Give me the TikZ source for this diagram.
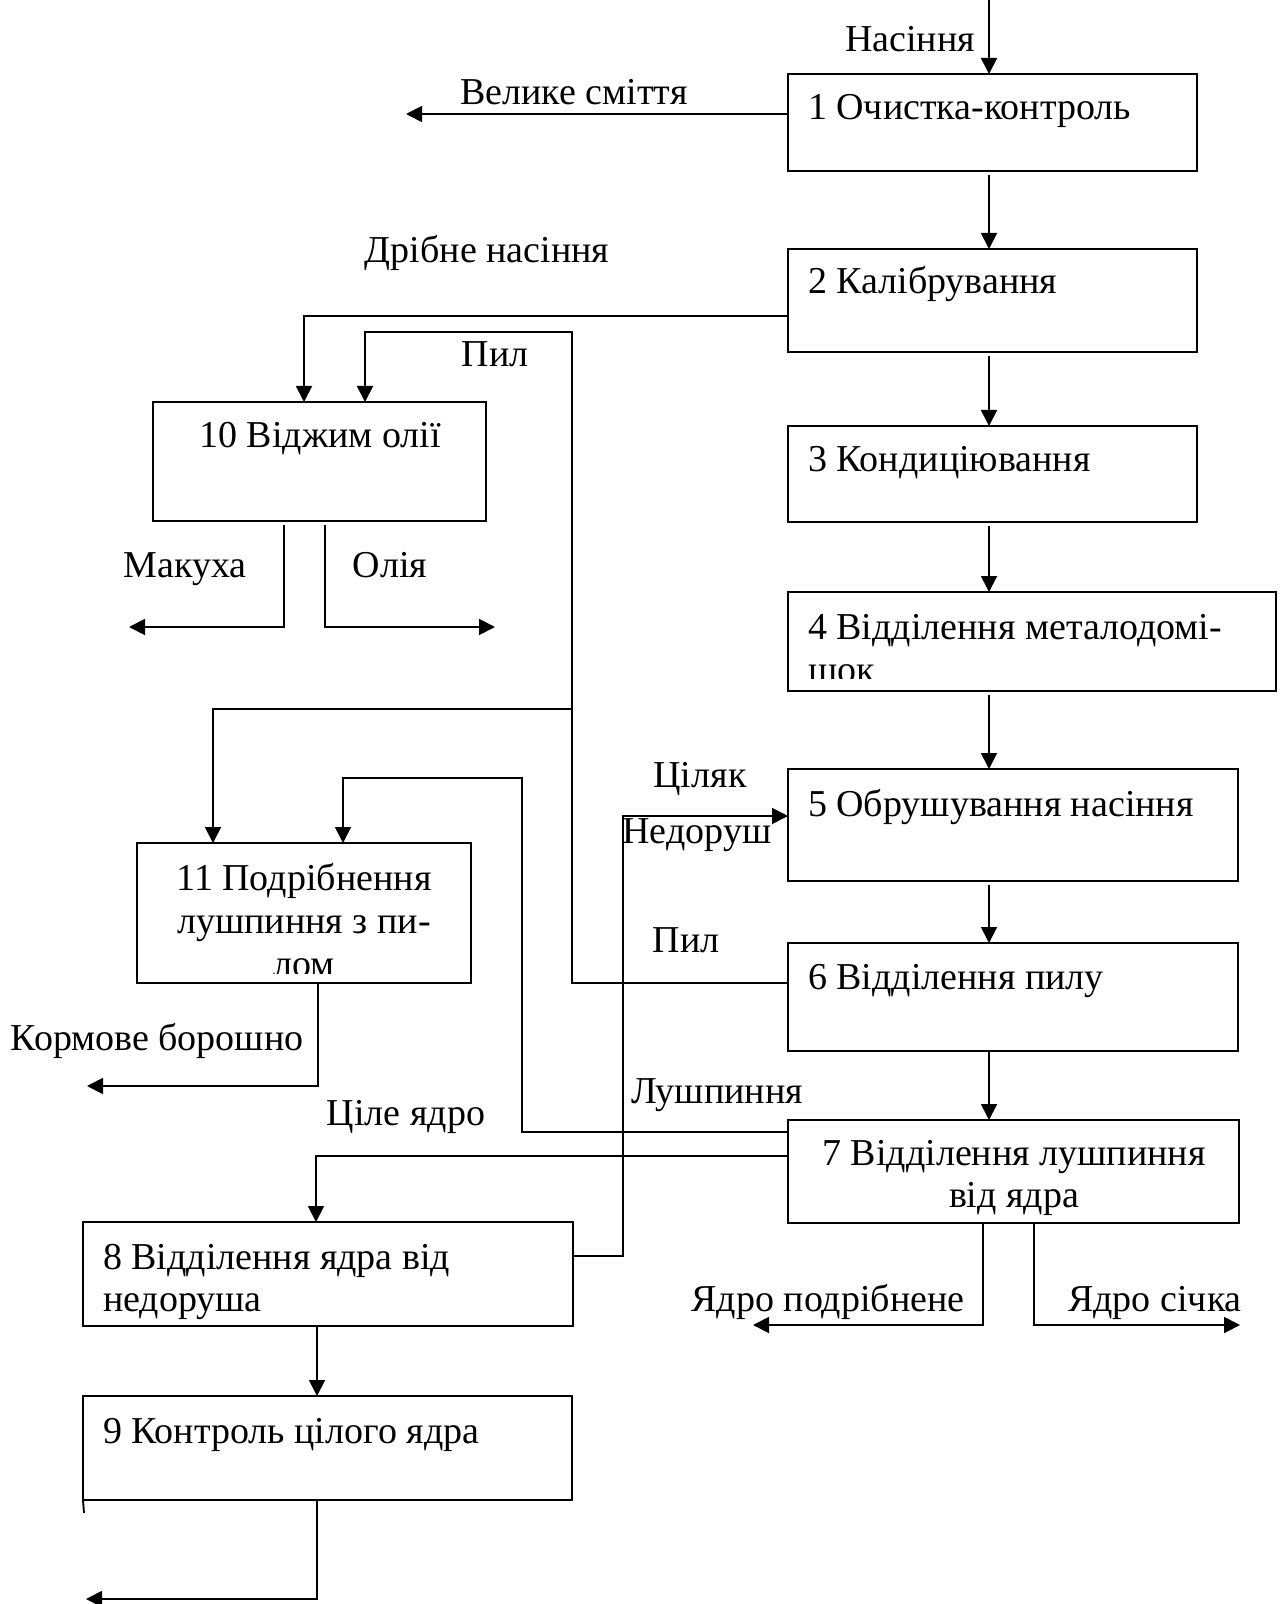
\documentclass[tikz,border=0pt]{standalone}
\usepackage{fontspec}
\setmainfont{Liberation Serif}
\usetikzlibrary{arrows.meta}
\newcommand\dfont{\fontsize{19}{21.5}\selectfont}
\begin{document}
\begin{tikzpicture}[x=0.5pt,y=-0.5pt,
  box/.style={draw, line width=0.95pt, rectangle, inner sep=0pt, outer sep=0pt, anchor=north west},
  arr/.style={line width=0.95pt, -{Triangle[length=8pt,width=8pt]}},
  ln/.style={line width=0.95pt},
  lbl/.style={inner sep=0pt, outer sep=0pt, font=\dfont}]
\fill[white] (0,0) rectangle (1284,1604);
\useasboundingbox (0,0) rectangle (1284,1604);

% boxes
\node[box, minimum width=204.5pt, minimum height=48.5pt] (b1) at (788,74) {};
\node[box, minimum width=204.5pt, minimum height=51.5pt] (b2) at (788,249) {};
\node[box, minimum width=204.5pt, minimum height=48pt] (b3) at (788,426) {};
\node[box, minimum width=244pt, minimum height=49.5pt] (b4) at (788,592) {};
\node[box, minimum width=225pt, minimum height=56pt] (b5) at (788,769) {};
\node[box, minimum width=225pt, minimum height=54pt] (b6) at (788,943) {};
\node[box, minimum width=225.5pt, minimum height=51.5pt] (b7) at (788,1120) {};
\node[box, minimum width=245pt, minimum height=52pt] (b8) at (83,1222) {};
\node[box, minimum width=244.5pt, minimum height=52pt] (b9) at (83,1396) {};
\node[box, minimum width=166.5pt, minimum height=59.5pt] (b10) at (153,402) {};
\node[box, minimum width=167pt, minimum height=70pt] (b11) at (137,843) {};

% box texts
\node[lbl, anchor=base west] (t1) at (808,120) {1 Очистка-контроль};
\node[lbl, anchor=base west] (t2) at (808,294) {2 Калібрування};
\node[lbl, anchor=base west] (t3) at (808,472) {3 Кондиціювання};
\node[lbl, anchor=base west] (t4a) at (808,639) {4 Відділення металодомі-};
\begin{scope}
  \clip (788,592) rectangle (1276,678);
  \node[lbl, anchor=base west] (t4b) at (808,682) {шок};
\end{scope}
\node[lbl, anchor=base west] (t5) at (808,816) {5 Обрушування насіння};
\node[lbl, anchor=base west] (t6) at (808,989) {6 Відділення пилу};
\node[lbl, anchor=base] (t7a) at (1014,1165) {7 Відділення лушпиння};
\node[lbl, anchor=base] (t7b) at (1014,1207) {від ядра};
\node[lbl, anchor=base west] (t8a) at (103,1269) {8 Відділення ядра від};
\node[lbl, anchor=base west] (t8b) at (103,1311) {недоруша};
\node[lbl, anchor=base west] (t9) at (103,1443) {9 Контроль цілого ядра};
\node[lbl, anchor=base] (t10) at (320,448) {10 Віджим олії};
\node[lbl, anchor=base] (t11a) at (304,890) {11 Подрібнення};
\node[lbl, anchor=base] (t11b) at (304,933) {лушпиння з пи-};
\begin{scope}
  \clip (137,843) rectangle (471,973);
  \node[lbl, anchor=base] (t11c) at (304,976) {лом};
\end{scope}

% labels
\node[lbl, anchor=base] (lNas) at (910,52) {Насіння};
\node[lbl, anchor=base] (lVel) at (574,105) {Велике сміття};
\node[lbl, anchor=base] (lDrib) at (487,263) {Дрібне насіння};
\node[lbl, anchor=base] (lPil1) at (495,367) {Пил};
\node[lbl, anchor=base] (lMak) at (185,577) {Макуха};
\node[lbl, anchor=base] (lOl) at (390,577) {Олія};
\node[lbl, anchor=base] (lCil) at (700,787) {Ціляк};
\node[lbl, anchor=base] (lNed) at (697,843) {Недоруш};
\node[lbl, anchor=base] (lPil2) at (686,952) {Пил};
\node[lbl, anchor=base] (lKorm) at (157,1050) {Кормове борошно};
\node[lbl, anchor=base] (lLush) at (717,1103) {Лушпиння};
\node[lbl, anchor=base] (lCile) at (406,1125) {Ціле ядро};
\node[lbl, anchor=base] (lYp) at (828,1311) {Ядро подрібнене};
\node[lbl, anchor=base] (lYs) at (1155,1311) {Ядро січка};

% coordinates
\coordinate (xr) at (989,0);
\coordinate (xl) at (317,0);
\coordinate (in) at (989,0);
\coordinate (vs) at (406,114);
\coordinate (dn) at (304,316);
\coordinate (p1) at (572,983);
\coordinate (p2) at (572,332);
\coordinate (p3) at (365,332);
\coordinate (p4) at (572,709);
\coordinate (p5) at (213,709);
\coordinate (q1) at (522,1132);
\coordinate (q2) at (522,778);
\coordinate (q3) at (343,778);
\coordinate (c1) at (316,1156);
\coordinate (n1) at (623,1256);
\coordinate (n2) at (623,816);
\coordinate (mk1) at (284,627);
\coordinate (mk2) at (129,627);
\coordinate (ol1) at (325,627);
\coordinate (ol2) at (495,627);
\coordinate (kb1) at (318,1086);
\coordinate (kb2) at (87,1086);
\coordinate (yp1) at (983,1325);
\coordinate (yp2) at (753,1325);
\coordinate (ys1) at (1034,1325);
\coordinate (ys2) at (1240,1325);
\coordinate (e1) at (317,1599);
\coordinate (e2) at (86,1599);

% main column
\draw[arr] (in) -- (b1.north -| in);
\draw[arr, shorten <=2pt] (b1.south -| xr) -- (b2.north -| xr);
\draw[arr, shorten <=2pt] (b2.south -| xr) -- (b3.north -| xr);
\draw[arr, shorten <=2pt] (b3.south -| xr) -- (b4.north -| xr);
\draw[arr, shorten <=2pt] (b4.south -| xr) -- (b5.north -| xr);
\draw[arr, shorten <=2pt] (b5.south -| xr) -- (b6.north -| xr);
\draw[arr] (b6.south -| xr) -- (b7.north -| xr);
\draw[arr] (b8.south -| xl) -- (b9.north -| xl);

% side flows
\draw[arr] (b1.west |- vs) -- (vs);
\draw[arr] (b2.west |- dn) -- (dn) -- (b10.north -| dn);
\draw[arr] (b6.west |- p1) -- (p1) -- (p2) -- (p3) -- (b10.north -| p3);
\draw[arr] (p4) -- (p5) -- (b11.north -| p5);
\draw[arr] (b7.west |- q1) -- (q1) -- (q2) -- (q3) -- (b11.north -| q3);
\draw[arr] (b7.west |- c1) -- (c1) -- (b8.north -| c1);
\draw[arr] (b8.east |- n1) -- (n1) -- (n2) -- (b5.west |- n2);
\draw[arr, shorten <=2pt] (b10.south -| mk1) -- (mk1) -- (mk2);
\draw[arr, shorten <=2pt] (b10.south -| ol1) -- (ol1) -- (ol2);
\draw[arr] (b11.south -| kb1) -- (kb1) -- (kb2);
\draw[arr] (b7.south -| yp1) -- (yp1) -- (yp2);
\draw[arr] (b7.south -| ys1) -- (ys1) -- (ys2);
\draw[arr] (b9.south -| e1) -- (e1) -- (e2);
\draw[ln] (b9.south west) -- ++(1,13);
\end{tikzpicture}
\end{document}
